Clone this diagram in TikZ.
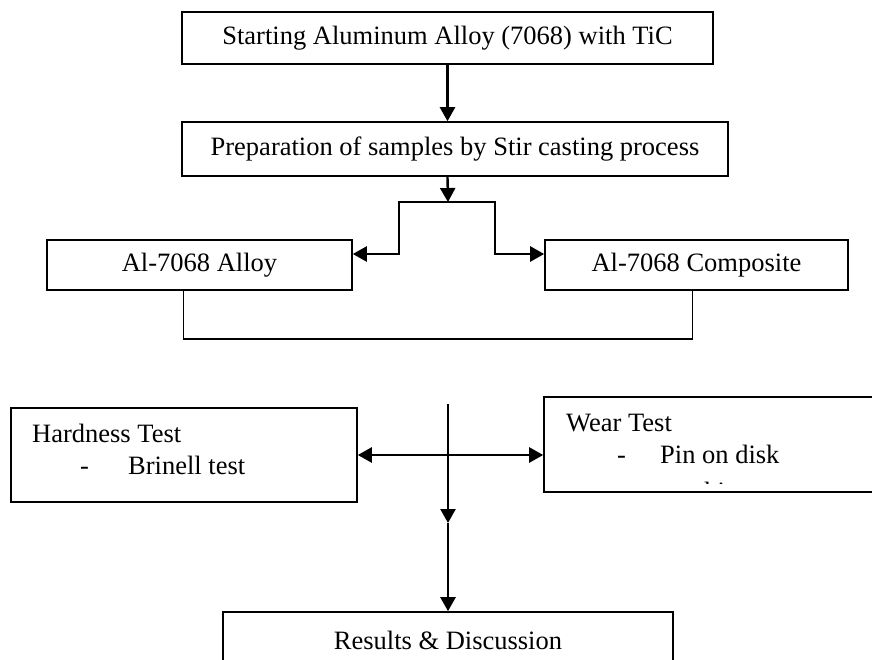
\documentclass[tikz,border=0pt]{standalone}
\usepackage{fontspec}
\setmainfont{Liberation Serif}
\usetikzlibrary{arrows.meta}

\begin{document}
\begin{tikzpicture}[x=1pt, y=-1pt,
      box/.style={rectangle, draw, line width=1.6pt, inner sep=0pt, text centered, font=\fontsize{26.5}{32}\selectfont},
      note/.style={anchor=north west, inner sep=0pt, align=left, font=\fontsize{26.5}{32}\selectfont},
      arrow/.style={-{Triangle[length=14pt, width=15pt]}, line width=2.4pt},
      dblarrow/.style={{Triangle[length=14pt, width=15pt]}-{Triangle[length=14pt, width=15pt]}, line width=2.4pt},
      link/.style={line width=1.4pt}
    ]
    \clip (0,0) rectangle (872,659);
    \fill[white] (0,0) rectangle (872,659);

    % Nodes
    \node[box, minimum width=531pt, minimum height=52pt] (start) at (447.5,38) {Starting Aluminum Alloy (7068) with TiC};
    \node[box, minimum width=546pt, minimum height=54pt] (prep) at (455,149) {Preparation of samples by Stir casting process};
    \node[box, minimum width=305pt, minimum height=50pt] (alloy) at (199.5,265) {Al-7068 Alloy};
    \node[box, minimum width=303pt, minimum height=50pt] (comp) at (696.5,265) {Al-7068 Composite};
    \node[box, minimum width=346pt, minimum height=94pt] (hardness) at (184,455) {};
    \node[box, minimum width=356pt, minimum height=95pt] (wear) at (722,444.5) {};
    \node[box, minimum width=450pt, minimum height=56pt] (results) at (448,640) {Results \& Discussion};

    \node[note] (hardtext) at (32,424) {Hardness Test\\\hspace*{48pt}\makebox[48pt][l]{-}Brinell test};
    \begin{scope}
      \clip (wear.north west) rectangle ([yshift=9pt]wear.south east);
      \node[note] (weartext) at (566,414) {Wear Test\\\hspace*{51pt}\makebox[43pt][l]{-}Pin on disk\\[5pt]\hspace*{94pt}machine};
    \end{scope}

    % Arrows
    \coordinate (split) at (448,202);
    \coordinate (vtop) at (448,404);
    \coordinate (midtip) at (448,523);
    \draw[arrow] (start.south) -- (start.south |- prep.north);
    \draw[arrow] (start.south |- prep.south) -- (split);
    \draw[arrow] (split) -| ([xshift=46pt,yshift=11pt]alloy.east) -- ([yshift=11pt]alloy.east);
    \draw[arrow] (split) -| ([xshift=-49pt,yshift=11pt]comp.west) -- ([yshift=11pt]comp.west);
    \draw[link] ([xshift=137pt]alloy.south west) -- ++(0,48) -| ([xshift=148pt]comp.south west);
    \draw[dblarrow] (hardness.east) -- (hardness.east -| wear.west);
    \draw[arrow] (vtop) -- (midtip);
    \draw[arrow] (midtip) -- (results.north);

\end{tikzpicture}
\end{document}
